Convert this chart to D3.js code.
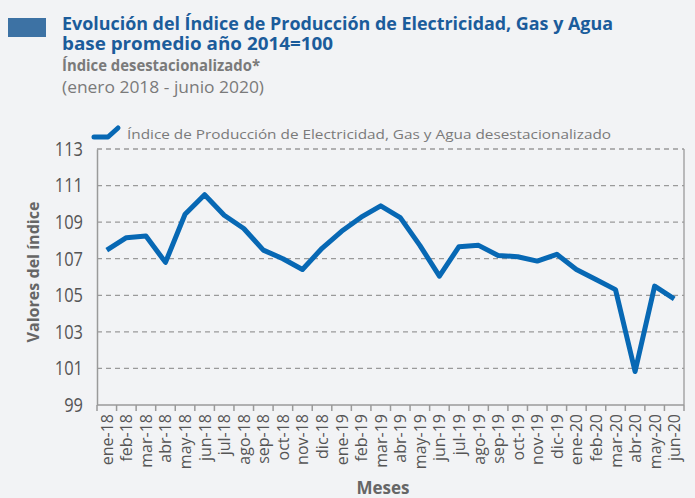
<!DOCTYPE html>
<html>
<head>
<meta charset="utf-8">
<script src="https://cdn.jsdelivr.net/npm/d3@7"></script>
<style>
body{margin:0;background:#f2f3f5;}
svg{display:block;font-family:"Open Sans",sans-serif;}
</style>
</head>
<body>
<svg id="chart" width="695" height="498"></svg>
<script>
(function(){
"use strict";

// meses (ene-2018 .. jun-2020)
var months = ["ene-18","feb-18","mar-18","abr-18","may-18","jun-18","jul-18","ago-18","sep-18","oct-18","nov-18","dic-18",
              "ene-19","feb-19","mar-19","abr-19","may-19","jun-19","jul-19","ago-19","sep-19","oct-19","nov-19","dic-19",
              "ene-20","feb-20","mar-20","abr-20","may-20","jun-20"];
var indexValues = [107.47,108.15,108.24,106.8,109.43,110.5,109.38,108.65,107.47,107.0,106.41,107.57,
                   108.5,109.27,109.89,109.25,107.73,106.05,107.66,107.73,107.18,107.11,106.87,107.24,
                   106.41,105.86,105.31,100.83,105.5,104.8];
var yTicks = [99,101,103,105,107,109,111,113];
var seriesName = "Índice de Producción de Electricidad, Gas y Agua desestacionalizado";

var margin = {top:149,left:97,right:11,bottom:93};
var width = 695-margin.left-margin.right;
var height = 498-margin.top-margin.bottom;

var svg = d3.select("#chart");

// header
svg.append("rect").attr("x",8).attr("y",18).attr("width",38).attr("height",19).attr("fill","#3d72a4");
svg.append("text").attr("x",62).attr("y",30).text("Evolución del Índice de Producción de Electricidad, Gas y Agua")
   .attr("fill","#1b5c9b").style("font-weight","bold").style("font-size","17.5px").attr("textLength",551).attr("lengthAdjust","spacingAndGlyphs");
svg.append("text").attr("x",62).attr("y",50).text("base promedio año 2014=100")
   .attr("fill","#1b5c9b").style("font-weight","bold").style("font-size","17.5px").attr("textLength",271).attr("lengthAdjust","spacingAndGlyphs");
svg.append("text").attr("x",62).attr("y",71).text("Índice desestacionalizado*")
   .attr("fill","#7a7a7a").style("font-weight","bold").style("font-size","16px").attr("textLength",198).attr("lengthAdjust","spacingAndGlyphs");
svg.append("text").attr("x",62).attr("y",93).text("(enero 2018 - junio 2020)")
   .attr("fill","#7a7a7a").style("font-size","16px").attr("textLength",202).attr("lengthAdjust","spacingAndGlyphs");

var chart = svg.append("g").attr("transform","translate("+margin.left+","+margin.top+")");

var x = d3.scaleBand().domain(months).range([0,width]);
var y = d3.scaleLinear().domain([99,113]).range([height,0]);

// grid
chart.selectAll("line.grid").data(yTicks.slice(1)).enter().append("line").attr("class","grid")
   .attr("x1",0).attr("x2",width).attr("y1",d=>y(d)).attr("y2",d=>y(d))
   .attr("stroke","#9a9a9a").attr("stroke-width",1.3).attr("stroke-dasharray","5,4");

// right border
chart.append("line").attr("x1",width).attr("x2",width).attr("y1",0).attr("y2",height)
   .attr("stroke","#9a9a9a").attr("stroke-width",1.3);

var yaxis = d3.axisLeft(y).tickValues(yTicks).tickSize(0).tickPadding(14);
var gy = chart.append("g").call(yaxis);
gy.select(".domain").attr("stroke","#9a9a9a").attr("stroke-width",1.5);
gy.selectAll("text").attr("fill","#555").style("font-size","20px").style("font-family","Open Sans, sans-serif")
   .attr("textLength",d=>String(d).length*9.4).attr("lengthAdjust","spacingAndGlyphs");

var gx = chart.append("g").attr("transform","translate(0,"+height+")");
gx.append("line").attr("x1",0).attr("x2",width).attr("stroke","#9a9a9a").attr("stroke-width",1.5);
gx.selectAll("line.tk").data(d3.range(months.length+1)).enter().append("line").attr("class","tk")
   .attr("x1",i=>i*x.step()).attr("x2",i=>i*x.step()).attr("y1",0).attr("y2",6)
   .attr("stroke","#9a9a9a").attr("stroke-width",1.5);
gx.selectAll("text").data(months).enter().append("text")
   .attr("transform",d=>"translate("+(x(d)+x.bandwidth()/2+6)+",9) rotate(-90)")
   .attr("text-anchor","end").text(d=>d)
   .attr("fill","#555").style("font-size","16px");

// line
var line = d3.line().x((d,i)=>x(months[i])+x.bandwidth()/2).y(d=>y(d));
chart.append("path").datum(indexValues).attr("d",line).attr("fill","none")
   .attr("stroke","#0768b4").attr("stroke-width",5).attr("stroke-linejoin","round");

// legend
svg.append("path").attr("d","M94,137 L108,137 L118,128").attr("fill","none")
   .attr("stroke","#0768b4").attr("stroke-width",5).attr("stroke-linecap","round").attr("stroke-linejoin","round");
svg.append("text").attr("x",127).attr("y",139).text(seriesName)
   .attr("fill","#7a7a7a").style("font-size","13.5px").attr("textLength",484).attr("lengthAdjust","spacingAndGlyphs");

// axis titles
svg.append("text").attr("transform","translate(39,272) rotate(-90)").attr("text-anchor","middle")
   .text("Valores del índice").attr("fill","#666").style("font-weight","bold").style("font-size","16px")
   .attr("textLength",141).attr("lengthAdjust","spacingAndGlyphs");
svg.append("text").attr("x",383).attr("y",494).attr("text-anchor","middle")
   .text("Meses").attr("fill","#666").style("font-weight","bold").style("font-size","17px");

})();
</script>
</body>
</html>
